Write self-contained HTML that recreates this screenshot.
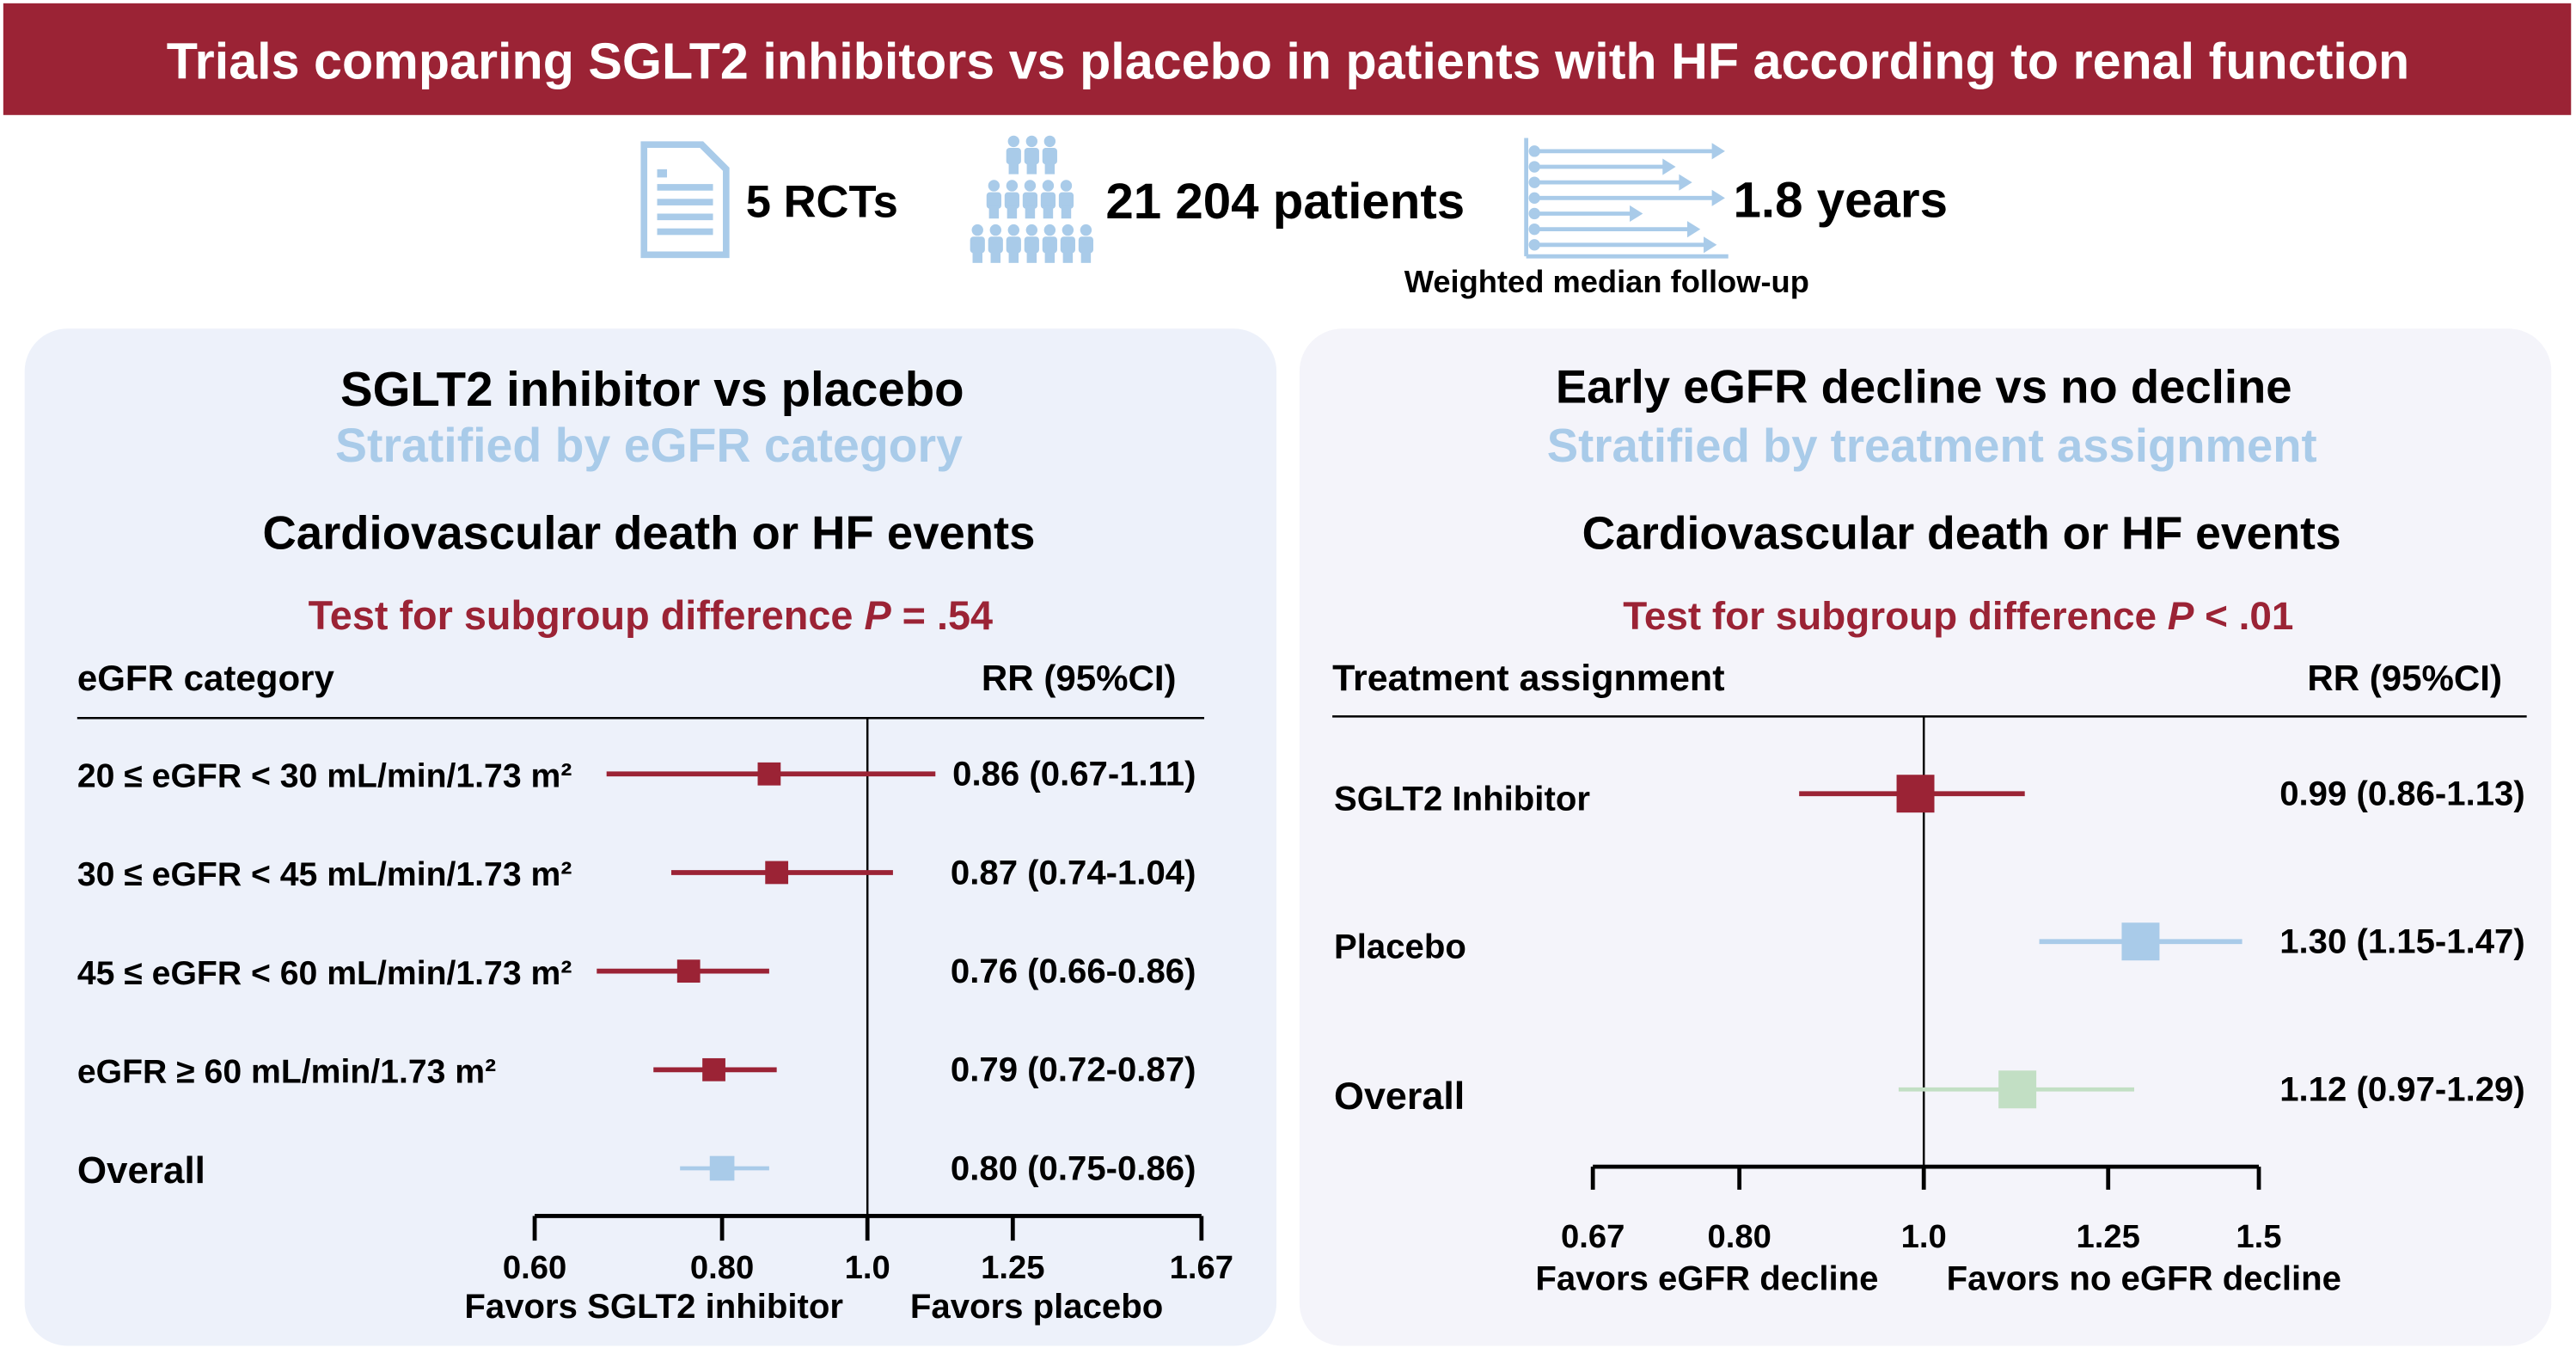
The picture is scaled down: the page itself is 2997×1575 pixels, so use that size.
<!DOCTYPE html>
<html><head><meta charset="utf-8"><style>
html,body{margin:0;padding:0;background:#fff;}
svg{display:block;}
text{font-family:"Liberation Sans",Arial,sans-serif;font-weight:bold;}
</style></head><body>
<svg id="root" width="2997" height="1575" viewBox="0 0 1568 824" preserveAspectRatio="none">
<rect x="2" y="2" width="1563" height="68" fill="#9b2335"/>
<text x="784" y="48" text-anchor="middle" font-size="31" fill="#fff">Trials comparing SGLT2 inhibitors vs placebo in patients with HF according to renal function</text>

<g fill="#a9cbe9">
<path d="M390 86 H428 L444 102 V157 H390 Z" fill="#a9cbe9"/>
<path d="M394 90 H426 L440 104 V153 H394 Z" fill="#fff"/>
<rect x="400" y="112" width="34" height="4"/><rect x="400" y="121" width="34" height="4"/><rect x="400" y="130" width="34" height="4"/><rect x="400" y="139" width="34" height="4"/><rect x="400" y="103" width="6" height="5"/>
</g>
<text x="454" y="132" font-size="27.5" fill="#000">5 RCTs</text>
<g id="people" fill="#a9cbe9"></g>
<text x="673" y="133" font-size="30.5" fill="#000">21 204 patients</text>
<g id="arrows"></g>
<text x="1055" y="132" font-size="30.5" fill="#000">1.8 years</text>
<text x="978" y="178" text-anchor="middle" font-size="19" fill="#000">Weighted median follow-up</text>

<rect x="15" y="200" width="762" height="619" rx="26" fill="#edf1fa"/>
<rect x="791" y="200" width="762" height="619" rx="26" fill="#f4f4fa"/>

<text x="397" y="247" text-anchor="middle" font-size="29.5" fill="#000">SGLT2 inhibitor vs placebo</text>
<text x="395" y="281" text-anchor="middle" font-size="29" fill="#a9cbe9">Stratified by eGFR category</text>
<text x="395" y="334" text-anchor="middle" font-size="28.5" fill="#000">Cardiovascular death or HF events</text>
<text x="396" y="383" text-anchor="middle" font-size="24.5" fill="#9b2335">Test for subgroup difference <tspan font-style="italic">P</tspan> = .54</text>
<text x="47" y="420" font-size="22" fill="#000">eGFR category</text>
<text x="716" y="420" text-anchor="end" font-size="22" fill="#000">RR (95%CI)</text>
<line x1="47" y1="437" x2="733" y2="437" stroke="#000" stroke-width="1.3"/>

<text x="1171" y="245" text-anchor="middle" font-size="28.5" fill="#000">Early eGFR decline vs no decline</text>
<text x="1176" y="281" text-anchor="middle" font-size="28.5" fill="#a9cbe9">Stratified by treatment assignment</text>
<text x="1194" y="334" text-anchor="middle" font-size="28" fill="#000">Cardiovascular death or HF events</text>
<text x="1192" y="383" text-anchor="middle" font-size="24" fill="#9b2335">Test for subgroup difference <tspan font-style="italic">P</tspan> &lt; .01</text>
<text x="811" y="420" font-size="22.5" fill="#000">Treatment assignment</text>
<text x="1523" y="420" text-anchor="end" font-size="22" fill="#000">RR (95%CI)</text>
<line x1="811" y1="436" x2="1538" y2="436" stroke="#000" stroke-width="1.3"/>

<g id="leftChart"></g>
<g id="rightChart"></g>
</svg>
<script>
// Left chart data
const leftLabels = ["20 ≤ eGFR < 30 mL/min/1.73 m²","30 ≤ eGFR < 45 mL/min/1.73 m²","45 ≤ eGFR < 60 mL/min/1.73 m²","eGFR ≥ 60 mL/min/1.73 m²","Overall"];
const leftRR = [0.86,0.87,0.76,0.79,0.80];
const leftLo = [0.67,0.74,0.66,0.72,0.75];
const leftHi = [1.11,1.04,0.86,0.87,0.86];
const leftTicks = [0.60,0.80,1.0,1.25,1.67];
const leftTickLabels = ["0.60","0.80","1.0","1.25","1.67"];
// Right chart data
const rightLabels = ["SGLT2 Inhibitor","Placebo","Overall"];
const rightRR = [0.99,1.30,1.12];
const rightLo = [0.86,1.15,0.97];
const rightHi = [1.13,1.47,1.29];
const rightTicks = [0.67,0.80,1.0,1.25,1.5];
const rightTickLabels = ["0.67","0.80","1.0","1.25","1.5"];

const NS="http://www.w3.org/2000/svg";
function mk(parent,tag,attrs){const e=document.createElementNS(NS,tag);for(const k in attrs)e.setAttribute(k,attrs[k]);parent.appendChild(e);return e;}
const fmt=v=>v.toFixed(2);

function drawForest(g,cfg){
  const x=v=>cfg.x1+Math.log(v)*cfg.k;
  const n=cfg.rr.length;
  const y=i=>cfg.y0+i*cfg.dy;
  let l=mk(g,'line',{x1:x(1),y1:cfg.top,x2:x(1),y2:cfg.axisY,stroke:'#000','stroke-width':1.3});
  
  
  const ax=mk(g,'line',{x1:x(cfg.ticks[0]),y1:cfg.axisY,x2:x(cfg.ticks[cfg.ticks.length-1]),y2:cfg.axisY,stroke:'#000','stroke-width':2.5});
  
  
  cfg.ticks.forEach((t,i)=>{
    const tk=mk(g,'line',{x1:x(t),y1:cfg.axisY,x2:x(t),y2:cfg.axisY+cfg.tickLen,stroke:'#000','stroke-width':2.5});
    
    
    const tl=mk(g,'text',{x:x(t),y:cfg.tickLabelY,'text-anchor':'middle','font-size':20,fill:'#000'});
    tl.textContent=cfg.tickLabels[i];
    
    
  });
  for(let i=0;i<n;i++){
    const last=(i===n-1);
    const col=cfg.colors[i];
    const lab=mk(g,'text',{x:cfg.labelX,y:y(i)+(last?cfg.overallOff:cfg.labelOff),'font-size':last?cfg.overallSize:cfg.labelSize,fill:'#000'});
    lab.textContent=cfg.labels[i];
    
    
    const ci=mk(g,'line',{x1:x(cfg.lo[i]),y1:y(i),x2:x(cfg.hi[i]),y2:y(i),stroke:col,'stroke-width':cfg.lw[i]});
    
    
    const s=cfg.sq[i];
    const sq=mk(g,'rect',{x:x(cfg.rr[i])-s/2,y:y(i)-s/2,width:s,height:s,fill:col});
    
    
    const vt=mk(g,'text',{x:cfg.valX,y:y(i)+7,'text-anchor':'end','font-size':21,fill:'#000'});
    vt.textContent=fmt(cfg.rr[i])+' ('+fmt(cfg.lo[i])+'-'+fmt(cfg.hi[i])+')';
    
    
  }
  cfg.favors.forEach(f=>{
    const t=mk(g,'text',{x:f[0],y:cfg.favY,'text-anchor':'middle','font-size':21,fill:'#000'});
    t.textContent=f[1];
    
    
  });
}
const red='#9b2335',blue='#a9cbe9',green='#c2dfc4';
drawForest(document.getElementById('leftChart'),{
  x1:528,k:396.5,y0:471,dy:60,top:437,axisY:740,tickLen:15,tickLabelY:778,favY:802,
  labels:leftLabels,rr:leftRR,lo:leftLo,hi:leftHi,ticks:leftTicks,tickLabels:leftTickLabels,
  colors:[red,red,red,red,blue],lw:[3,3,3,3,2.5],sq:[14,14,14,14,15],
  labelX:47,labelOff:8,overallOff:9,labelSize:20.5,overallSize:23,valX:728,
  favors:[[398,'Favors SGLT2 inhibitor'],[631,'Favors placebo']]
});
drawForest(document.getElementById('rightChart'),{
  x1:1171,k:503,y0:483,dy:90,top:436,axisY:710,tickLen:14,tickLabelY:759,favY:785,
  labels:rightLabels,rr:rightRR,lo:rightLo,hi:rightHi,ticks:rightTicks,tickLabels:rightTickLabels,
  colors:[red,blue,green],lw:[3,3,2.5],sq:[23,23,23],
  labelX:812,labelOff:10,overallOff:12,labelSize:21,overallSize:23.5,valX:1537,
  favors:[[1039,'Favors eGFR decline'],[1305,'Favors no eGFR decline']]
});

// people icon
const pg=document.getElementById('people');
const rows=[[612,3,86],[600,5,113],[590,7,140]];
rows.forEach(r=>{for(let j=0;j<r[1];j++){const cx=r[0]+j*11+5;
  mk(pg,'circle',{cx:cx,cy:r[2],r:3.5});
  mk(pg,'rect',{x:cx-4.5,y:r[2]+4,width:9,height:10,rx:2});
  mk(pg,'rect',{x:cx-3,y:r[2]+12,width:6,height:8});}});
// arrows icon
const ag=document.getElementById('arrows');
mk(ag,'line',{x1:929,y1:84,x2:929,y2:156,stroke:blue,'stroke-width':2.5});
mk(ag,'line',{x1:929,y1:156,x2:1052,y2:156,stroke:blue,'stroke-width':2.5});
const ends=[1050,1020,1030,1050,1000,1035,1045];
ends.forEach((e,i)=>{const yy=92+i*9.5;
  mk(ag,'circle',{cx:934,cy:yy,r:3.5,fill:blue});
  mk(ag,'line',{x1:934,y1:yy,x2:e-6,y2:yy,stroke:blue,'stroke-width':2.5});
  mk(ag,'path',{d:`M${e-8} ${yy-5} L${e} ${yy} L${e-8} ${yy+5} Z`,fill:blue});});
</script>
</body></html>
